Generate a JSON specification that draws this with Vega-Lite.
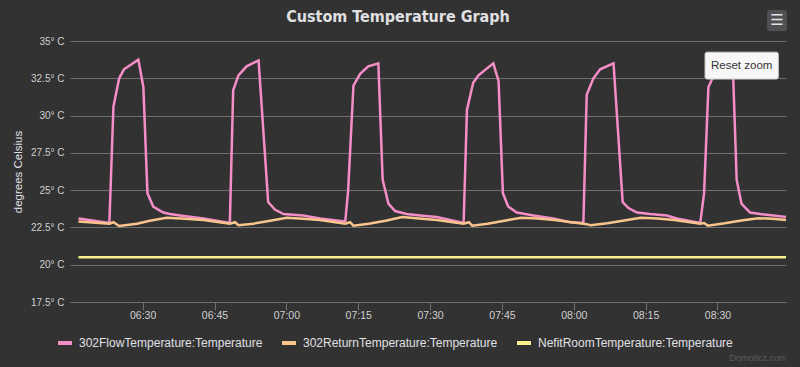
{
  "$schema": "https://vega.github.io/schema/vega-lite/v6.json",
  "width": 716,
  "height": 261,
  "autosize": {"type": "none"},
  "padding": {"left": 70, "top": 41, "right": 14, "bottom": 65},
  "background": "#323233",
  "config": {
    "view": {"stroke": null},
    "font": "Liberation Sans"
  },
  "title": {
    "text": "Custom Temperature Graph",
    "anchor": "middle",
    "frame": "group",
    "dx": -30,
    "offset": -15,
    "font": "DejaVu Sans Condensed",
    "fontSize": 16,
    "fontWeight": "bold",
    "color": "#e0e0e3"
  },
  "layer": [
    {
      "data": {
        "values": [
          {"t": "2020-01-01T06:16:36Z", "series": "302FlowTemperature:Temperature", "temp": 23.1},
          {"t": "2020-01-01T06:23:03Z", "series": "302FlowTemperature:Temperature", "temp": 22.8},
          {"t": "2020-01-01T06:23:54Z", "series": "302FlowTemperature:Temperature", "temp": 30.6},
          {"t": "2020-01-01T06:25:06Z", "series": "302FlowTemperature:Temperature", "temp": 32.5},
          {"t": "2020-01-01T06:26:06Z", "series": "302FlowTemperature:Temperature", "temp": 33.1},
          {"t": "2020-01-01T06:29:06Z", "series": "302FlowTemperature:Temperature", "temp": 33.75},
          {"t": "2020-01-01T06:30:09Z", "series": "302FlowTemperature:Temperature", "temp": 31.9},
          {"t": "2020-01-01T06:31:00Z", "series": "302FlowTemperature:Temperature", "temp": 24.8},
          {"t": "2020-01-01T06:32:12Z", "series": "302FlowTemperature:Temperature", "temp": 23.9},
          {"t": "2020-01-01T06:34:18Z", "series": "302FlowTemperature:Temperature", "temp": 23.5},
          {"t": "2020-01-01T06:35:42Z", "series": "302FlowTemperature:Temperature", "temp": 23.4},
          {"t": "2020-01-01T06:37:48Z", "series": "302FlowTemperature:Temperature", "temp": 23.3},
          {"t": "2020-01-01T06:42:42Z", "series": "302FlowTemperature:Temperature", "temp": 23.1},
          {"t": "2020-01-01T06:48:12Z", "series": "302FlowTemperature:Temperature", "temp": 22.8},
          {"t": "2020-01-01T06:48:54Z", "series": "302FlowTemperature:Temperature", "temp": 31.7},
          {"t": "2020-01-01T06:50:00Z", "series": "302FlowTemperature:Temperature", "temp": 32.7},
          {"t": "2020-01-01T06:51:42Z", "series": "302FlowTemperature:Temperature", "temp": 33.3},
          {"t": "2020-01-01T06:54:12Z", "series": "302FlowTemperature:Temperature", "temp": 33.7},
          {"t": "2020-01-01T06:56:12Z", "series": "302FlowTemperature:Temperature", "temp": 24.2},
          {"t": "2020-01-01T06:57:36Z", "series": "302FlowTemperature:Temperature", "temp": 23.7},
          {"t": "2020-01-01T06:59:24Z", "series": "302FlowTemperature:Temperature", "temp": 23.4},
          {"t": "2020-01-01T07:03:30Z", "series": "302FlowTemperature:Temperature", "temp": 23.3},
          {"t": "2020-01-01T07:07:00Z", "series": "302FlowTemperature:Temperature", "temp": 23.1},
          {"t": "2020-01-01T07:12:18Z", "series": "302FlowTemperature:Temperature", "temp": 22.9},
          {"t": "2020-01-01T07:12:54Z", "series": "302FlowTemperature:Temperature", "temp": 25.0},
          {"t": "2020-01-01T07:14:00Z", "series": "302FlowTemperature:Temperature", "temp": 32.0},
          {"t": "2020-01-01T07:15:24Z", "series": "302FlowTemperature:Temperature", "temp": 32.8},
          {"t": "2020-01-01T07:17:06Z", "series": "302FlowTemperature:Temperature", "temp": 33.3},
          {"t": "2020-01-01T07:19:12Z", "series": "302FlowTemperature:Temperature", "temp": 33.5},
          {"t": "2020-01-01T07:20:06Z", "series": "302FlowTemperature:Temperature", "temp": 25.7},
          {"t": "2020-01-01T07:21:18Z", "series": "302FlowTemperature:Temperature", "temp": 24.1},
          {"t": "2020-01-01T07:22:42Z", "series": "302FlowTemperature:Temperature", "temp": 23.6},
          {"t": "2020-01-01T07:25:06Z", "series": "302FlowTemperature:Temperature", "temp": 23.4},
          {"t": "2020-01-01T07:27:54Z", "series": "302FlowTemperature:Temperature", "temp": 23.3},
          {"t": "2020-01-01T07:31:24Z", "series": "302FlowTemperature:Temperature", "temp": 23.2},
          {"t": "2020-01-01T07:37:00Z", "series": "302FlowTemperature:Temperature", "temp": 22.8},
          {"t": "2020-01-01T07:37:42Z", "series": "302FlowTemperature:Temperature", "temp": 30.4},
          {"t": "2020-01-01T07:39:00Z", "series": "302FlowTemperature:Temperature", "temp": 32.2},
          {"t": "2020-01-01T07:40:06Z", "series": "302FlowTemperature:Temperature", "temp": 32.7},
          {"t": "2020-01-01T07:43:12Z", "series": "302FlowTemperature:Temperature", "temp": 33.5},
          {"t": "2020-01-01T07:44:18Z", "series": "302FlowTemperature:Temperature", "temp": 32.3},
          {"t": "2020-01-01T07:45:12Z", "series": "302FlowTemperature:Temperature", "temp": 24.8},
          {"t": "2020-01-01T07:46:18Z", "series": "302FlowTemperature:Temperature", "temp": 23.9},
          {"t": "2020-01-01T07:48:06Z", "series": "302FlowTemperature:Temperature", "temp": 23.5},
          {"t": "2020-01-01T07:51:36Z", "series": "302FlowTemperature:Temperature", "temp": 23.3},
          {"t": "2020-01-01T07:55:42Z", "series": "302FlowTemperature:Temperature", "temp": 23.1},
          {"t": "2020-01-01T07:59:12Z", "series": "302FlowTemperature:Temperature", "temp": 22.85},
          {"t": "2020-01-01T08:02:00Z", "series": "302FlowTemperature:Temperature", "temp": 22.8},
          {"t": "2020-01-01T08:02:42Z", "series": "302FlowTemperature:Temperature", "temp": 31.4},
          {"t": "2020-01-01T08:04:06Z", "series": "302FlowTemperature:Temperature", "temp": 32.5},
          {"t": "2020-01-01T08:05:30Z", "series": "302FlowTemperature:Temperature", "temp": 33.1},
          {"t": "2020-01-01T08:08:18Z", "series": "302FlowTemperature:Temperature", "temp": 33.5},
          {"t": "2020-01-01T08:10:12Z", "series": "302FlowTemperature:Temperature", "temp": 24.2},
          {"t": "2020-01-01T08:11:24Z", "series": "302FlowTemperature:Temperature", "temp": 23.8},
          {"t": "2020-01-01T08:13:12Z", "series": "302FlowTemperature:Temperature", "temp": 23.5},
          {"t": "2020-01-01T08:15:54Z", "series": "302FlowTemperature:Temperature", "temp": 23.4},
          {"t": "2020-01-01T08:19:24Z", "series": "302FlowTemperature:Temperature", "temp": 23.3},
          {"t": "2020-01-01T08:21:30Z", "series": "302FlowTemperature:Temperature", "temp": 23.1},
          {"t": "2020-01-01T08:26:24Z", "series": "302FlowTemperature:Temperature", "temp": 22.8},
          {"t": "2020-01-01T08:27:12Z", "series": "302FlowTemperature:Temperature", "temp": 24.8},
          {"t": "2020-01-01T08:28:06Z", "series": "302FlowTemperature:Temperature", "temp": 31.9},
          {"t": "2020-01-01T08:28:48Z", "series": "302FlowTemperature:Temperature", "temp": 32.4},
          {"t": "2020-01-01T08:31:30Z", "series": "302FlowTemperature:Temperature", "temp": 33.6},
          {"t": "2020-01-01T08:33:18Z", "series": "302FlowTemperature:Temperature", "temp": 32.4},
          {"t": "2020-01-01T08:34:00Z", "series": "302FlowTemperature:Temperature", "temp": 25.7},
          {"t": "2020-01-01T08:35:00Z", "series": "302FlowTemperature:Temperature", "temp": 24.1},
          {"t": "2020-01-01T08:36:48Z", "series": "302FlowTemperature:Temperature", "temp": 23.5},
          {"t": "2020-01-01T08:38:54Z", "series": "302FlowTemperature:Temperature", "temp": 23.4},
          {"t": "2020-01-01T08:41:42Z", "series": "302FlowTemperature:Temperature", "temp": 23.3},
          {"t": "2020-01-01T08:44:18Z", "series": "302FlowTemperature:Temperature", "temp": 23.2},
          {"t": "2020-01-01T06:16:36Z", "series": "302ReturnTemperature:Temperature", "temp": 22.9},
          {"t": "2020-01-01T06:23:03Z", "series": "302ReturnTemperature:Temperature", "temp": 22.75},
          {"t": "2020-01-01T06:23:54Z", "series": "302ReturnTemperature:Temperature", "temp": 22.85},
          {"t": "2020-01-01T06:25:06Z", "series": "302ReturnTemperature:Temperature", "temp": 22.6},
          {"t": "2020-01-01T06:28:48Z", "series": "302ReturnTemperature:Temperature", "temp": 22.75},
          {"t": "2020-01-01T06:31:30Z", "series": "302ReturnTemperature:Temperature", "temp": 22.95},
          {"t": "2020-01-01T06:35:00Z", "series": "302ReturnTemperature:Temperature", "temp": 23.15},
          {"t": "2020-01-01T06:38:00Z", "series": "302ReturnTemperature:Temperature", "temp": 23.1},
          {"t": "2020-01-01T06:42:42Z", "series": "302ReturnTemperature:Temperature", "temp": 23.0},
          {"t": "2020-01-01T06:48:12Z", "series": "302ReturnTemperature:Temperature", "temp": 22.75},
          {"t": "2020-01-01T06:49:18Z", "series": "302ReturnTemperature:Temperature", "temp": 22.85},
          {"t": "2020-01-01T06:50:00Z", "series": "302ReturnTemperature:Temperature", "temp": 22.65},
          {"t": "2020-01-01T06:53:06Z", "series": "302ReturnTemperature:Temperature", "temp": 22.75},
          {"t": "2020-01-01T06:56:36Z", "series": "302ReturnTemperature:Temperature", "temp": 22.95},
          {"t": "2020-01-01T07:00:06Z", "series": "302ReturnTemperature:Temperature", "temp": 23.15},
          {"t": "2020-01-01T07:03:30Z", "series": "302ReturnTemperature:Temperature", "temp": 23.08},
          {"t": "2020-01-01T07:07:00Z", "series": "302ReturnTemperature:Temperature", "temp": 23.0},
          {"t": "2020-01-01T07:12:18Z", "series": "302ReturnTemperature:Temperature", "temp": 22.75},
          {"t": "2020-01-01T07:13:18Z", "series": "302ReturnTemperature:Temperature", "temp": 22.85},
          {"t": "2020-01-01T07:14:00Z", "series": "302ReturnTemperature:Temperature", "temp": 22.62},
          {"t": "2020-01-01T07:17:12Z", "series": "302ReturnTemperature:Temperature", "temp": 22.75},
          {"t": "2020-01-01T07:20:42Z", "series": "302ReturnTemperature:Temperature", "temp": 22.95},
          {"t": "2020-01-01T07:24:12Z", "series": "302ReturnTemperature:Temperature", "temp": 23.2},
          {"t": "2020-01-01T07:27:42Z", "series": "302ReturnTemperature:Temperature", "temp": 23.1},
          {"t": "2020-01-01T07:31:24Z", "series": "302ReturnTemperature:Temperature", "temp": 23.0},
          {"t": "2020-01-01T07:37:00Z", "series": "302ReturnTemperature:Temperature", "temp": 22.75},
          {"t": "2020-01-01T07:38:06Z", "series": "302ReturnTemperature:Temperature", "temp": 22.85},
          {"t": "2020-01-01T07:38:48Z", "series": "302ReturnTemperature:Temperature", "temp": 22.62},
          {"t": "2020-01-01T07:42:00Z", "series": "302ReturnTemperature:Temperature", "temp": 22.75},
          {"t": "2020-01-01T07:45:30Z", "series": "302ReturnTemperature:Temperature", "temp": 22.95},
          {"t": "2020-01-01T07:49:00Z", "series": "302ReturnTemperature:Temperature", "temp": 23.15},
          {"t": "2020-01-01T07:52:30Z", "series": "302ReturnTemperature:Temperature", "temp": 23.1},
          {"t": "2020-01-01T07:56:00Z", "series": "302ReturnTemperature:Temperature", "temp": 23.0},
          {"t": "2020-01-01T08:02:00Z", "series": "302ReturnTemperature:Temperature", "temp": 22.75},
          {"t": "2020-01-01T08:02:42Z", "series": "302ReturnTemperature:Temperature", "temp": 22.72},
          {"t": "2020-01-01T08:03:30Z", "series": "302ReturnTemperature:Temperature", "temp": 22.65},
          {"t": "2020-01-01T08:07:00Z", "series": "302ReturnTemperature:Temperature", "temp": 22.78},
          {"t": "2020-01-01T08:10:30Z", "series": "302ReturnTemperature:Temperature", "temp": 22.97},
          {"t": "2020-01-01T08:14:00Z", "series": "302ReturnTemperature:Temperature", "temp": 23.15},
          {"t": "2020-01-01T08:17:30Z", "series": "302ReturnTemperature:Temperature", "temp": 23.1},
          {"t": "2020-01-01T08:21:00Z", "series": "302ReturnTemperature:Temperature", "temp": 23.0},
          {"t": "2020-01-01T08:26:24Z", "series": "302ReturnTemperature:Temperature", "temp": 22.75},
          {"t": "2020-01-01T08:27:12Z", "series": "302ReturnTemperature:Temperature", "temp": 22.8},
          {"t": "2020-01-01T08:28:00Z", "series": "302ReturnTemperature:Temperature", "temp": 22.62},
          {"t": "2020-01-01T08:31:30Z", "series": "302ReturnTemperature:Temperature", "temp": 22.78},
          {"t": "2020-01-01T08:35:00Z", "series": "302ReturnTemperature:Temperature", "temp": 22.97},
          {"t": "2020-01-01T08:38:30Z", "series": "302ReturnTemperature:Temperature", "temp": 23.12},
          {"t": "2020-01-01T08:41:30Z", "series": "302ReturnTemperature:Temperature", "temp": 23.08},
          {"t": "2020-01-01T08:44:18Z", "series": "302ReturnTemperature:Temperature", "temp": 23.0},
          {"t": "2020-01-01T06:16:36Z", "series": "NefitRoomTemperature:Temperature", "temp": 20.5},
          {"t": "2020-01-01T06:30:00Z", "series": "NefitRoomTemperature:Temperature", "temp": 20.5},
          {"t": "2020-01-01T06:45:00Z", "series": "NefitRoomTemperature:Temperature", "temp": 20.5},
          {"t": "2020-01-01T07:00:00Z", "series": "NefitRoomTemperature:Temperature", "temp": 20.5},
          {"t": "2020-01-01T07:15:00Z", "series": "NefitRoomTemperature:Temperature", "temp": 20.5},
          {"t": "2020-01-01T07:30:00Z", "series": "NefitRoomTemperature:Temperature", "temp": 20.5},
          {"t": "2020-01-01T07:45:00Z", "series": "NefitRoomTemperature:Temperature", "temp": 20.5},
          {"t": "2020-01-01T08:00:00Z", "series": "NefitRoomTemperature:Temperature", "temp": 20.5},
          {"t": "2020-01-01T08:15:00Z", "series": "NefitRoomTemperature:Temperature", "temp": 20.5},
          {"t": "2020-01-01T08:30:00Z", "series": "NefitRoomTemperature:Temperature", "temp": 20.5},
          {"t": "2020-01-01T08:44:18Z", "series": "NefitRoomTemperature:Temperature", "temp": 20.5}
        ]
      },
      "mark": {"type": "line", "strokeWidth": 2.5},
      "encoding": {
        "x": {
          "field": "t",
          "type": "temporal",
          "scale": {"type": "utc", "domain": [1577859290000, 1577868258000]},
          "axis": {
            "format": "%H:%M",
            "values": [1577860200000, 1577861100000, 1577862000000, 1577862900000, 1577863800000, 1577864700000, 1577865600000, 1577866500000, 1577867400000],
            "tickCount": 20,
            "labelOverlap": false,
            "grid": false,
            "domainColor": "#707073",
            "tickColor": "#707073",
            "tickSize": 8,
            "labelPadding": 0,
            "labelFontSize": 10.5,
            "labelColor": "#d0d0d0",
            "labelFont": "Liberation Sans",
            "title": "Domoticz.com",
            "titleFont": "Liberation Sans",
            "titleFontSize": 9,
            "titleFontWeight": "normal",
            "titleColor": "#5c5c5e",
            "titleAnchor": "end",
            "titleAlign": "right",
            "titleBaseline": "alphabetic",
            "titleX": 716,
            "titleY": 58
          }
        },
        "y": {
          "field": "temp",
          "type": "quantitative",
          "scale": {"domain": [17.5, 35], "nice": false, "zero": false},
          "axis": {
            "values": [17.5, 20, 22.5, 25, 27.5, 30, 32.5, 35],
            "tickCount": 12,
            "labelExpr": "datum.value + '° C'",
            "labelOverlap": false,
            "domain": false,
            "ticks": false,
            "grid": true,
            "gridColor": "#707073",
            "gridWidth": 1,
            "labelPadding": 6,
            "labelFontSize": 10,
            "labelColor": "#d0d0d0",
            "labelFont": "Liberation Sans",
            "title": "degrees Celsius",
            "titleFont": "Liberation Sans",
            "titleFontSize": 11.5,
            "titleFontWeight": "normal",
            "titleColor": "#e0e0e3",
            "titleAngle": -90,
            "titleAlign": "center",
            "titleBaseline": "middle",
            "titleX": -52,
            "titleY": 130.5
          }
        },
        "color": {
          "field": "series",
          "type": "nominal",
          "scale": {
            "domain": ["302FlowTemperature:Temperature", "302ReturnTemperature:Temperature", "NefitRoomTemperature:Temperature"],
            "range": ["#f58ec6", "#f9c58c", "#f7f28c"]
          },
          "legend": {
            "orient": "none",
            "legendX": -14,
            "legendY": 293,
            "direction": "horizontal",
            "title": null,
            "symbolType": "stroke",
            "symbolSize": 196,
            "symbolStrokeWidth": 4,
            "labelFont": "Liberation Sans",
            "labelFontSize": 12,
            "labelLimit": 0,
            "labelColor": "#e0e0e3",
            "labelOffset": 5,
            "columnPadding": 11
          }
        }
      }
    },
    {
      "data": {"values": [{}]},
      "mark": {"type": "rect", "fill": "#f7f7f7", "stroke": "#cccccc", "strokeWidth": 1, "cornerRadius": 2},
      "encoding": {
        "x": {"datum": 1577867244000, "type": "temporal"},
        "x2": {"datum": 1577868162000},
        "y": {"datum": 34.25, "type": "quantitative"},
        "y2": {"datum": 32.45}
      }
    },
    {
      "data": {"values": [{}]},
      "mark": {"type": "text", "text": "Reset zoom", "font": "Liberation Sans", "fontSize": 11.5, "color": "#333333", "align": "center", "baseline": "middle"},
      "encoding": {
        "x": {"datum": 1577867703000, "type": "temporal"},
        "y": {"datum": 33.35, "type": "quantitative"}
      }
    },
    {
      "data": {"values": [{}]},
      "mark": {"type": "rect", "fill": "#505053", "cornerRadius": 2},
      "encoding": {
        "x": {"datum": 1577868021000, "type": "temporal"},
        "x2": {"datum": 1577868270000},
        "y": {"datum": 37.08, "type": "quantitative"},
        "y2": {"datum": 35.67}
      }
    },
    {
      "data": {"values": [{}]},
      "mark": {"type": "text", "text": "☰", "font": "DejaVu Sans", "fontSize": 15, "color": "#e0e0e3", "align": "center", "baseline": "middle"},
      "encoding": {
        "x": {"datum": 1577868144000, "type": "temporal"},
        "y": {"datum": 36.38, "type": "quantitative"}
      }
    }
  ]
}
